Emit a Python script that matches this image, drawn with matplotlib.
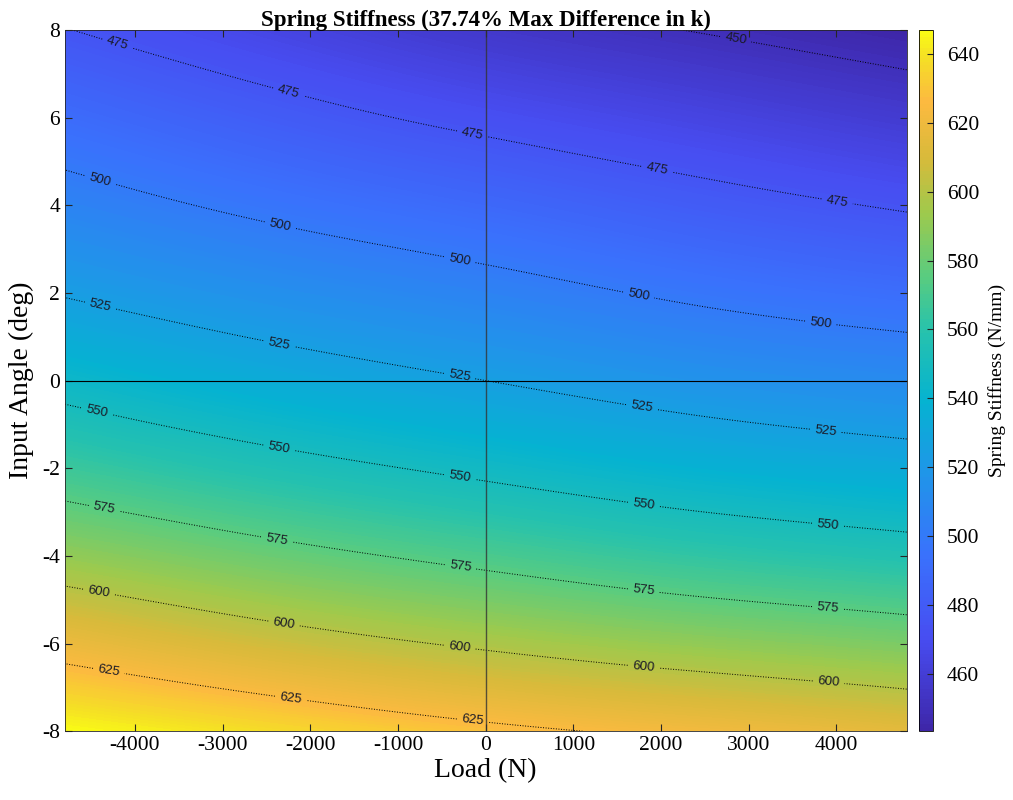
import numpy as np
import matplotlib
matplotlib.use('Agg')
import matplotlib.pyplot as plt
from matplotlib.colors import LinearSegmentedColormap
from matplotlib.tri import Triangulation, UniformTriRefiner, CubicTriInterpolator

# values
loads = [-4800, -2400, 0, 2400, 4800]          # N
angles = [-8, -6, -4, -2, 0, 2, 4, 6, 8]       # deg
# stiffness (N/mm), one row per angle, columns follow loads
k_rows = [
    [647.0, 637.4, 628.3, 621.6, 615.0],
    [618.5, 607.0, 597.8, 590.4, 584.4],
    [590.7, 579.8, 570.8, 562.8, 556.9],
    [566.2, 555.5, 546.6, 538.4, 532.5],
    [544.3, 533.6, 525.0, 516.7, 510.9],
    [524.0, 514.1, 505.8, 497.4, 491.5],
    [506.6, 496.3, 488.2, 480.2, 473.7],
    [490.6, 480.1, 471.5, 464.6, 458.1],
    [475.4, 464.9, 455.9, 449.6, 443.3],
]
line_levels = [450, 475, 500, 525, 550, 575, 600, 625]
title = 'Spring Stiffness (37.74% Max Difference in k)'

# where the contour labels sit along each line (load values)
label_loads = {
    450: [2900],
    475: [-4200, -2230, -170, 1900, 3960],
    500: [-4400, -2370, -320, 1750, 3830],
    525: [-4400, -2360, -310, 1770, 3850],
    550: [-4400, -2320, -290, 1790, 3870],
    575: [-4390, -2340, -270, 1800, 3880],
    600: [-4390, -2340, -270, 1830, 3910],
    625: [-4290, -2230, -150],
}

# parula-like colormap
parula = LinearSegmentedColormap.from_list('parula', [
    (0.00, (0.242, 0.150, 0.660)),
    (0.13, (0.281, 0.300, 0.945)),
    (0.25, (0.225, 0.445, 0.990)),
    (0.37, (0.120, 0.590, 0.910)),
    (0.47, (0.020, 0.700, 0.820)),
    (0.57, (0.150, 0.760, 0.680)),
    (0.65, (0.350, 0.800, 0.500)),
    (0.74, (0.620, 0.790, 0.300)),
    (0.82, (0.850, 0.730, 0.230)),
    (0.90, (0.990, 0.730, 0.250)),
    (0.96, (0.960, 0.870, 0.150)),
    (1.00, (0.977, 0.984, 0.081)),
], N=256)

X, Y = np.meshgrid(loads, angles)
K = np.array(k_rows)

# smooth the coarse grid with matplotlib's own refiner (scaled so both axes are similar)
sx = 600.0
tri = Triangulation(X.ravel() / sx, Y.ravel().astype(float))
interp = CubicTriInterpolator(tri, K.ravel(), kind='min_E')
tri_f, k_f = UniformTriRefiner(tri).refine_field(K.ravel(), triinterpolator=interp, subdiv=4)
tri_f = Triangulation(tri_f.x * sx, tri_f.y, tri_f.triangles)

plt.rcParams['font.family'] = ['Liberation Serif', 'DejaVu Serif']
plt.rcParams['axes.unicode_minus'] = False

fig = plt.figure(figsize=(10.13, 8), dpi=100)
ax = fig.add_axes([0.064, 0.086, 0.831, 0.8765])
cax = fig.add_axes([0.907, 0.086, 0.014, 0.8765])

vmin, vmax = K.min(), K.max()
cf = ax.tricontourf(tri_f, k_f, levels=np.linspace(vmin, vmax, 200), cmap=parula,
                    vmin=vmin, vmax=vmax)
cs = ax.tricontour(tri_f, k_f, levels=line_levels, colors='k', linestyles=':', linewidths=0.7)

# manual label points on the computed lines
pts = []
for i, lev in enumerate(cs.levels):
    segs = [s for s in cs.allsegs[i] if len(s)]
    if not segs:
        continue
    seg = np.vstack(segs)
    for lx in label_loads.get(int(lev), []):
        j = np.argmin(np.abs(seg[:, 0] - lx))
        pts.append((seg[j, 0], seg[j, 1]))
ax.clabel(cs, manual=pts, fmt='%d', fontsize=9.5, inline=True, inline_spacing=6,
          colors=['#1a1a26'])
for t in cs.labelTexts:
    t.set_family(['Liberation Sans', 'DejaVu Sans'])

ax.axvline(0, color=(0.2, 0.2, 0.2), lw=1.0, alpha=0.8)
ax.axhline(0, color='k', lw=0.8)

ax.set_xlim(-4800, 4800)
ax.set_ylim(-8, 8)
ax.set_xticks(np.arange(-4000, 4001, 1000))
ax.set_yticks(np.arange(-8, 9, 2))
ax.tick_params(direction='in', labelsize=15.5, length=5, top=True, right=True,
               color=(0.15, 0.15, 0.15))
for s in ax.spines.values():
    s.set_color((0.15, 0.15, 0.15))
    s.set_linewidth(0.6)
ax.set_xlabel('Load (N)', fontsize=20, labelpad=2)
ax.set_ylabel('Input Angle (deg)', fontsize=20, labelpad=6)
ax.set_title(title, fontsize=16.5, fontweight='bold', pad=3)

cb = fig.colorbar(cf, cax=cax)
cb.set_ticks(np.arange(460, 641, 20))
cb.ax.tick_params(direction='in', labelsize=15.5, length=4, pad=10,
                  color=(0.15, 0.15, 0.15))
cb.outline.set_linewidth(0.6)
cb.set_label('Spring Stiffness (N/mm)', fontsize=14, labelpad=6)

fig.savefig('out.png', dpi=100)
